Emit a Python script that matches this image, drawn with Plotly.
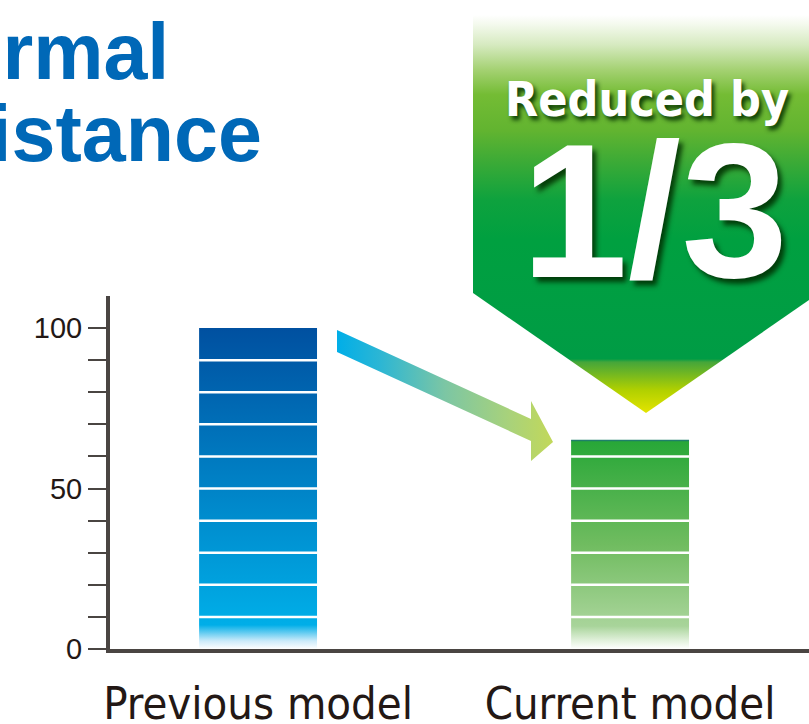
import plotly.graph_objects as go

# ---- chart data -------------------------------------------------------------
categories = ["Previous model", "Current model"]
values = [100, 65]
y_tick_vals = [0, 10, 20, 30, 40, 50, 60, 70, 80, 90, 100]
y_tick_text = ["0", "", "", "", "", "50", "", "", "", "", "100"]
stripe_step = 10
title_lines = ["Thermal", "resistance"]
badge_lines = ["Reduced by", "1/3"]

# ---- styling ----------------------------------------------------------------
W, H = 809, 724
AXIS_COLOR = "#4a4542"
TEXT_COLOR = "#231815"
BAR_WIDTH = 0.317

bar_scales = [
    [[0.0, "#ffffff"], [0.025, "#cdebfa"], [0.075, "#00aee8"],
     [0.10, "#00ace6"], [1.0, "#0050a0"]],
    [[0.0, "#ffffff"], [0.04, "#e2f1dc"], [0.11, "#a8d49a"],
     [0.154, "#a3d294"], [0.5, "#70bc60"], [1.0, "#27a737"]],
]

fig = go.Figure()

# bars with vertical gradient fill
for i, (v, cs) in enumerate(zip(values, bar_scales)):
    x0, x1 = i - BAR_WIDTH / 2, i + BAR_WIDTH / 2
    fig.add_trace(go.Scatter(
        x=[x0, x1, x1, x0, x0], y=[0, 0, v, v, 0],
        mode="lines", fill="toself",
        line=dict(width=0, color="rgba(0,0,0,0)"),
        fillgradient=dict(type="vertical", colorscale=cs, start=0, stop=v),
        hoverinfo="skip", showlegend=False,
    ))

# white divider stripes every 10 units inside each bar
sx, sy = [], []
for i, v in enumerate(values):
    x0, x1 = i - BAR_WIDTH / 2, i + BAR_WIDTH / 2
    for s in range(stripe_step, int(v), stripe_step):
        sx += [x0, x1, None]
        sy += [s, s, None]
fig.add_trace(go.Scatter(x=sx, y=sy, mode="lines",
                         line=dict(color="white", width=2.5),
                         hoverinfo="skip", showlegend=False))

# thin dark cap on the current-model bar
fig.add_trace(go.Scatter(
    x=[1 - BAR_WIDTH / 2, 1 + BAR_WIDTH / 2], y=[values[1], values[1]],
    mode="lines", line=dict(color="#1f7f6a", width=1.5),
    hoverinfo="skip", showlegend=False))

# ---- decorative overlay in pixel space (x2 / y2) -----------------------------
# green "reduced" badge
badge_x = [473, 819, 819, 646, 473, 473]
badge_y = [15, 15, 293, 413, 293, 15]
badge_scale = [
    [0.0, "#ffffff"], [0.025, "#f3f9ec"], [0.075, "#d6eac0"],
    [0.138, "#a4d172"], [0.2, "#74bc34"], [0.29, "#62b430"],
    [0.364, "#3eab36"], [0.465, "#0ea23e"], [0.565, "#00a040"],
    [0.864, "#009c45"], [0.872, "#45a63a"], [0.942, "#b0d000"],
    [1.0, "#e4e400"],
]
fig.add_trace(go.Scatter(
    x=badge_x, y=badge_y, mode="lines", fill="toself",
    line=dict(width=0, color="rgba(0,0,0,0)"),
    fillgradient=dict(type="vertical", colorscale=badge_scale, start=15, stop=413),
    xaxis="x2", yaxis="y2", hoverinfo="skip", showlegend=False))

# arrow pointing from the old bar to the new one
arrow_x = [337, 531, 531, 553, 531, 531, 337, 337]
arrow_y = [330, 419, 401, 442, 461, 441, 352, 330]
arrow_scale = [[0.0, "#00aee8"], [0.2, "#2cb6d4"], [0.5, "#7cc6a4"],
               [0.8, "#a9d27a"], [1.0, "#c2d85a"]]
fig.add_trace(go.Scatter(
    x=arrow_x, y=arrow_y, mode="lines", fill="toself",
    line=dict(width=0, color="rgba(0,0,0,0)"),
    fillgradient=dict(type="horizontal", colorscale=arrow_scale, start=337, stop=553),
    xaxis="x2", yaxis="y2", hoverinfo="skip", showlegend=False))

# ---- text ------------------------------------------------------------------
title_font = dict(family="Liberation Sans, Arial, sans-serif", size=79,
                  color="#0068b7", weight="bold")
shadow = "3px 4px 4px rgba(0,45,0,0.85)"
annotations = [
    dict(text=title_lines[0], x=171, y=81, xanchor="right", yanchor="bottom"),
    dict(text=title_lines[1], x=264, y=163, xanchor="right", yanchor="bottom"),
]
for a in annotations:
    a.update(xref="x2", yref="y2", showarrow=False, font=title_font,
             yshift=-17)
annotations.append(dict(
    text=badge_lines[0], x=647, y=118, xref="x2", yref="y2",
    xanchor="center", yanchor="bottom", yshift=-11, showarrow=False,
    font=dict(family="DejaVu Sans Condensed, DejaVu Sans, sans-serif",
              size=48, color="white", weight="bold", shadow=shadow)))
annotations.append(dict(
    text=badge_lines[1], x=654, y=278, xref="x2", yref="y2",
    xanchor="center", yanchor="bottom", yshift=-42, showarrow=False,
    font=dict(family="Liberation Sans, Arial, sans-serif", size=192,
              color="white", weight="bold", shadow="4px 5px 5px rgba(0,45,0,0.85)")))

fig.update_layout(
    width=W, height=H,
    margin=dict(l=0, r=0, t=0, b=0),
    paper_bgcolor="white", plot_bgcolor="rgba(0,0,0,0)",
    showlegend=False,
    annotations=annotations,
    xaxis=dict(
        domain=[110 / W, 1], range=[-0.398, 1.481], automargin=False,
        showgrid=False, zeroline=False,
        showline=True, linewidth=4, linecolor=AXIS_COLOR,
        tickmode="array", tickvals=[0, 1], ticktext=categories, ticks="",
        tickfont=dict(family="DejaVu Sans Condensed, DejaVu Sans, sans-serif",
                      size=45, color=TEXT_COLOR),
        ticklabelstandoff=12, fixedrange=True,
    ),
    yaxis=dict(
        domain=[(H - 649) / H, (H - 296) / H], range=[0, 110], automargin=False,
        showgrid=False, zeroline=False,
        showline=True, linewidth=4, linecolor=AXIS_COLOR,
        tickmode="array", tickvals=y_tick_vals, ticktext=y_tick_text,
        ticks="outside", ticklen=18, tickwidth=2, tickcolor=AXIS_COLOR,
        tickfont=dict(family="Liberation Sans, Arial, sans-serif",
                      size=29, color=TEXT_COLOR),
        fixedrange=True,
    ),
    xaxis2=dict(domain=[0, 1], range=[0, W], anchor="y2", visible=False,
                fixedrange=True, automargin=False),
    yaxis2=dict(domain=[0, 1], range=[H, 0], anchor="x2", visible=False,
                fixedrange=True, automargin=False),
)

fig.write_html("out.html")
